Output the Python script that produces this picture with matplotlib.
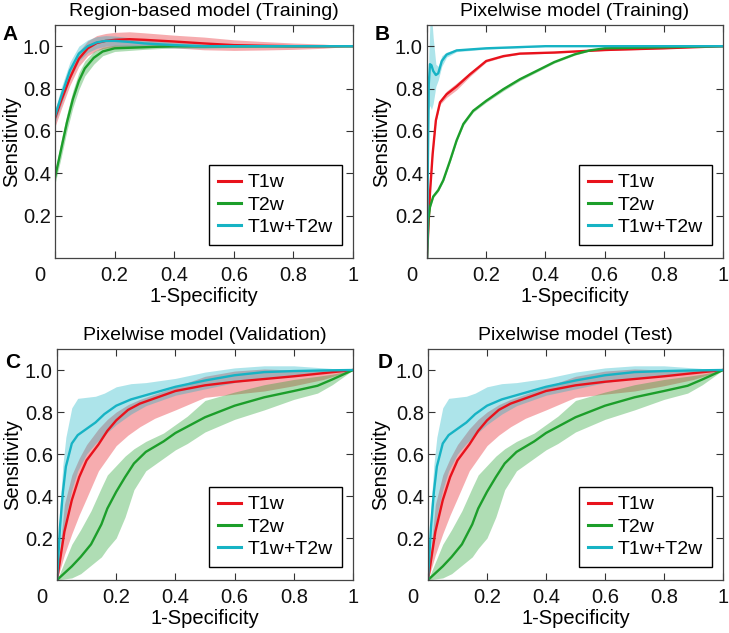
import matplotlib
matplotlib.use('Agg')
import matplotlib.pyplot as plt
import numpy as np

plt.rcParams['font.family'] = ['Liberation Sans', 'DejaVu Sans']
plt.rcParams['font.size'] = 14

RED, GREEN, CYAN = '#e8121c', '#1c9e2a', '#16b3c4'
LABELS = ['T1w', 'T2w', 'T1w+T2w']

# ---- Panel A: region-based model (training) ----
a_red_x = [0, 0.02, 0.05, 0.08, 0.11, 0.14, 0.17, 0.2, 0.25, 0.3, 0.4, 0.5, 0.6, 0.7, 0.8, 0.9, 1.0]
a_red_y = [0.66, 0.74, 0.85, 0.94, 0.99, 1.015, 1.025, 1.03, 1.033, 1.03, 1.022, 1.013, 1.005, 1.002, 1.0, 1.0, 1.0]
a_red_hi = [0.70, 0.78, 0.885, 0.975, 1.025, 1.05, 1.06, 1.065, 1.068, 1.063, 1.052, 1.043, 1.03, 1.022, 1.015, 1.01, 1.0]
a_red_lo = [0.62, 0.70, 0.815, 0.905, 0.955, 0.98, 0.99, 0.995, 0.998, 0.997, 0.992, 0.983, 0.98, 0.982, 0.985, 0.99, 1.0]

a_grn_x = [0, 0.02, 0.04, 0.06, 0.08, 0.1, 0.13, 0.16, 0.2, 0.3, 0.4, 0.6, 0.8, 1.0]
a_grn_y = [0.38, 0.51, 0.64, 0.75, 0.835, 0.895, 0.945, 0.975, 0.99, 0.995, 1.0, 1.0, 1.0, 1.0]
a_grn_hi = [0.41, 0.55, 0.68, 0.79, 0.875, 0.93, 0.975, 0.995, 1.005, 1.005, 1.008, 1.005, 1.003, 1.0]
a_grn_lo = [0.35, 0.47, 0.60, 0.71, 0.795, 0.86, 0.915, 0.955, 0.975, 0.985, 0.992, 0.995, 0.997, 1.0]

a_cyn_x = [0, 0.02, 0.05, 0.08, 0.11, 0.14, 0.17, 0.2, 0.25, 0.3, 0.4, 0.5, 0.6, 0.8, 1.0]
a_cyn_y = [0.67, 0.76, 0.885, 0.965, 1.0, 1.018, 1.025, 1.025, 1.02, 1.013, 1.005, 1.0, 1.0, 1.0, 1.0]
a_cyn_hi = [0.70, 0.80, 0.925, 1.0, 1.03, 1.045, 1.05, 1.048, 1.04, 1.03, 1.018, 1.01, 1.006, 1.003, 1.0]
a_cyn_lo = [0.64, 0.72, 0.845, 0.93, 0.97, 0.99, 1.0, 1.002, 1.0, 0.996, 0.992, 0.99, 0.994, 0.997, 1.0]

# ---- Panel B: pixelwise model (training) ----
b_red_x = [0, 0.01, 0.019, 0.03, 0.044, 0.066, 0.1, 0.145, 0.2, 0.258, 0.314, 0.43, 0.5, 0.6, 0.8, 1.0]
b_red_y = [0, 0.305, 0.49, 0.65, 0.735, 0.773, 0.81, 0.867, 0.93, 0.953, 0.965, 0.97, 0.975, 0.982, 0.99, 1.0]
b_red_hi = [0, 0.31, 0.497, 0.658, 0.745, 0.788, 0.826, 0.877, 0.935, 0.957, 0.968, 0.973, 0.978, 0.985, 0.992, 1.0]
b_red_lo = [0, 0.30, 0.483, 0.642, 0.725, 0.758, 0.794, 0.857, 0.925, 0.949, 0.962, 0.967, 0.972, 0.979, 0.988, 1.0]

b_grn_x = [0, 0.0045, 0.01, 0.021, 0.038, 0.055, 0.078, 0.1, 0.123, 0.156, 0.2, 0.258, 0.314, 0.37, 0.43, 0.5, 0.55, 0.6, 0.8, 1.0]
b_grn_y = [0, 0.18, 0.24, 0.29, 0.32, 0.367, 0.46, 0.555, 0.633, 0.695, 0.742, 0.797, 0.844, 0.883, 0.925, 0.962, 0.98, 0.99, 0.995, 1.0]
b_grn_hi = [0, 0.185, 0.246, 0.296, 0.326, 0.374, 0.467, 0.562, 0.64, 0.702, 0.749, 0.805, 0.851, 0.889, 0.93, 0.966, 0.983, 0.992, 0.997, 1.0]
b_grn_lo = [0, 0.175, 0.234, 0.284, 0.314, 0.36, 0.453, 0.548, 0.626, 0.688, 0.735, 0.789, 0.837, 0.877, 0.92, 0.958, 0.977, 0.988, 0.993, 1.0]

b_cyn_x = [0, 0.003, 0.006, 0.01, 0.015, 0.021, 0.03, 0.038, 0.05, 0.066, 0.1, 0.15, 0.2, 0.3, 0.4, 0.6, 1.0]
b_cyn_y = [0, 0.45, 0.82, 0.915, 0.91, 0.883, 0.864, 0.872, 0.93, 0.96, 0.98, 0.985, 0.99, 0.995, 1.0, 1.0, 1.0]
b_cyn_hi = [0, 0.50, 0.95, 1.12, 1.15, 1.04, 0.915, 0.905, 0.955, 0.972, 0.986, 0.99, 0.994, 0.998, 1.002, 1.001, 1.0]
b_cyn_lo = [0, 0.40, 0.70, 0.72, 0.70, 0.73, 0.81, 0.84, 0.905, 0.948, 0.974, 0.98, 0.986, 0.992, 0.998, 0.999, 1.0]

# ---- Panel C/D: pixelwise model (validation / test) ----
c_red_x = [0, 0.025, 0.05, 0.075, 0.1, 0.14, 0.17, 0.2, 0.24, 0.28, 0.33, 0.4, 0.5, 0.6, 0.7, 0.8, 0.9, 1.0]
c_red_y = [0, 0.23, 0.38, 0.49, 0.57, 0.645, 0.71, 0.76, 0.81, 0.84, 0.865, 0.9, 0.927, 0.944, 0.957, 0.97, 0.985, 1.0]
c_red_hi = [0, 0.36, 0.50, 0.58, 0.645, 0.72, 0.765, 0.80, 0.835, 0.86, 0.885, 0.92, 0.97, 0.995, 1.005, 1.0, 1.0, 1.0]
c_red_lo = [0, 0.12, 0.22, 0.31, 0.39, 0.52, 0.58, 0.64, 0.69, 0.73, 0.77, 0.81, 0.87, 0.885, 0.90, 0.925, 0.955, 1.0]

c_grn_x = [0, 0.05, 0.08, 0.115, 0.15, 0.17, 0.2, 0.23, 0.26, 0.3, 0.36, 0.4, 0.44, 0.5, 0.6, 0.7, 0.8, 0.88, 0.93, 1.0]
c_grn_y = [0, 0.065, 0.11, 0.17, 0.265, 0.34, 0.42, 0.49, 0.555, 0.61, 0.66, 0.70, 0.73, 0.775, 0.83, 0.87, 0.9, 0.925, 0.955, 1.0]
c_grn_hi = [0, 0.17, 0.24, 0.33, 0.44, 0.50, 0.545, 0.59, 0.625, 0.66, 0.70, 0.74, 0.78, 0.855, 0.895, 0.93, 0.955, 0.97, 0.98, 1.0]
c_grn_lo = [0, 0.01, 0.03, 0.07, 0.11, 0.15, 0.20, 0.30, 0.43, 0.52, 0.58, 0.62, 0.65, 0.705, 0.765, 0.81, 0.86, 0.89, 0.93, 1.0]

c_cyn_x = [0, 0.01, 0.02, 0.03, 0.05, 0.07, 0.1, 0.13, 0.16, 0.2, 0.25, 0.3, 0.4, 0.5, 0.6, 0.7, 0.8, 0.9, 1.0]
c_cyn_y = [0, 0.25, 0.42, 0.54, 0.65, 0.69, 0.72, 0.75, 0.79, 0.83, 0.86, 0.88, 0.92, 0.95, 0.975, 0.99, 0.995, 0.998, 1.0]
c_cyn_hi = [0, 0.35, 0.55, 0.68, 0.82, 0.865, 0.87, 0.875, 0.89, 0.92, 0.935, 0.94, 0.96, 0.99, 1.01, 1.02, 1.02, 1.01, 1.0]
c_cyn_lo = [0, 0.08, 0.20, 0.30, 0.43, 0.52, 0.60, 0.65, 0.69, 0.74, 0.79, 0.83, 0.88, 0.91, 0.94, 0.96, 0.975, 0.99, 1.0]

panels = [
    ('A', 'Region-based model (Training)',
     [(a_red_x, a_red_y, a_red_lo, a_red_hi), (a_grn_x, a_grn_y, a_grn_lo, a_grn_hi),
      (a_cyn_x, a_cyn_y, a_cyn_lo, a_cyn_hi)]),
    ('B', 'Pixelwise model (Training)',
     [(b_red_x, b_red_y, b_red_lo, b_red_hi), (b_grn_x, b_grn_y, b_grn_lo, b_grn_hi),
      (b_cyn_x, b_cyn_y, b_cyn_lo, b_cyn_hi)]),
    ('C', 'Pixelwise model (Validation)',
     [(c_red_x, c_red_y, c_red_lo, c_red_hi), (c_grn_x, c_grn_y, c_grn_lo, c_grn_hi),
      (c_cyn_x, c_cyn_y, c_cyn_lo, c_cyn_hi)]),
    ('D', 'Pixelwise model (Test)',
     [(c_red_x, c_red_y, c_red_lo, c_red_hi), (c_grn_x, c_grn_y, c_grn_lo, c_grn_hi),
      (c_cyn_x, c_cyn_y, c_cyn_lo, c_cyn_hi)]),
]

W, H = 729, 633
# axes boxes in pixels: left, top, right, bottom
boxes = [(55, 25, 353, 258), (427, 25, 723, 258), (57, 349, 353, 580), (428, 349, 723, 580)]
letter_pos = [(10, 35), (382, 35), (13, 362), (385, 362)]
ylabel_x = [12, 382, 13, 381]

fig = plt.figure(figsize=(W / 100, H / 100), dpi=100)

for (letter, title, series), (l, t, r, b), (lx, ly), yx in zip(panels, boxes, letter_pos, ylabel_x):
    ax = fig.add_axes([l / W, 1 - b / H, (r - l) / W, (b - t) / H])
    handles = []
    for (x, y, lo, hi), col, lab in zip(series, [RED, GREEN, CYAN], LABELS):
        ax.fill_between(x, lo, hi, color=col, alpha=0.35, lw=0)
        h, = ax.plot(x, y, color=col, lw=1.7, label=lab)
        handles.append(h)
    ax.set_xlim(0, 1)
    ax.set_ylim(0, 1.1)
    ax.set_xticks([0, 0.2, 0.4, 0.6, 0.8, 1.0])
    ax.set_xticklabels(['', '0.2', '0.4', '0.6', '0.8', '1'])
    ax.set_yticks([0.2, 0.4, 0.6, 0.8, 1.0])
    ax.set_yticklabels(['0.2', '0.4', '0.6', '0.8', '1.0'])
    ax.tick_params(direction='in', length=5, width=0.8, top=True, right=True,
                   labelsize=14.5, colors='#333333', labelcolor='#111111', pad=3)
    ax.tick_params(axis='x', pad=6)
    for s in ax.spines.values():
        s.set_color('#444444')
        s.set_linewidth(0.9)
    # the "0" corner label sits left of the origin
    ax.annotate('0', xy=(0, 0), xycoords='axes fraction', xytext=(-15, -8),
                textcoords='offset pixels', ha='center', va='top', fontsize=14.5, color='#111111')
    ax.set_xlabel('1-Specificity', fontsize=14.5)
    ax.set_ylabel('Sensitivity', fontsize=14.5)
    ax.xaxis.label.set_va('center')
    ax.yaxis.label.set_va('center')
    hpx = b - t
    wpx = r - l
    ax.xaxis.set_label_coords(0.5, -38 / hpx)
    ax.yaxis.set_label_coords((yx - l) / wpx, 0.5)
    ax.text(0.5, 1 + 14 / hpx, title, transform=ax.transAxes, ha='center', va='center', fontsize=14)
    leg = ax.legend(handles=handles, loc='lower right', bbox_to_anchor=(1 - 11 / wpx, 13 / hpx),
                    borderaxespad=0, fontsize=14, handlelength=1.2, handletextpad=0.35,
                    labelspacing=0.25, fancybox=False, framealpha=1, edgecolor='black',
                    borderpad=0.45)
    leg.get_frame().set_linewidth(1.0)
    for lh in leg.get_lines():
        lh.set_linewidth(2.2)
    fig.text(lx / W, 1 - ly / H, letter, fontsize=15, fontweight='bold', ha='center', va='center')

fig.savefig('out.png', dpi=100)
